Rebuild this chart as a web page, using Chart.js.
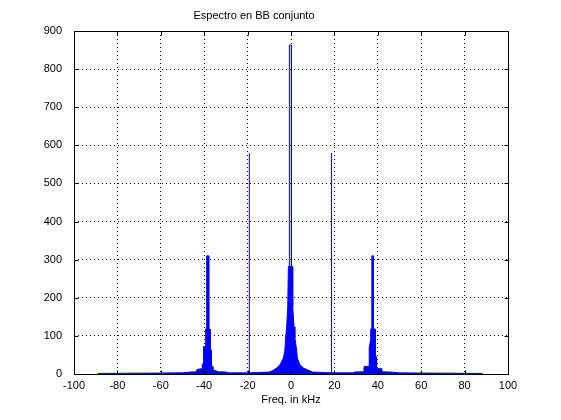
<!DOCTYPE html>
<html>
<head>
<meta charset="utf-8">
<script src="https://cdn.jsdelivr.net/npm/chart.js@4/dist/chart.umd.min.js"></script>
<style>
  body { margin: 0; background: #fff; }
  canvas { display: block; }
</style>
</head>
<body>
<canvas id="chart" width="561" height="420"></canvas>
<script>
// envelope of the baseband spectrum (kHz, magnitude)
const freqs = [
  -89, -75, -60, -50, -46.5, -43.5, -43.4, -41, -40.9, -40.4, -40.3, -39.4, -39.3, -38.9,
  -38.85, -37.95, -37.9, -37.3, -37.25, -36.7, -36.65, -36.1, -36.0, -34.2, -34.1, -29.6,
  -29.5, -24, -19.5, -15, -10, -8.1, -6.6, -5.1, -3.5, -2.8, -2.5, -2.0, -1.5, -1.2,
  -0.75, 0.2, 0.5, 0.8, 1.4, 1.8, 2.6, 2.9, 4.1, 5.7, 8.0, 10, 15, 18.5, 24, 29, 29.1,
  33.6, 33.7, 36.0, 36.05, 36.7, 36.75, 37.2, 37.25, 37.9, 37.95, 38.8, 38.85, 39.4,
  39.45, 41.7, 41.8, 46, 50, 60, 75, 88.3
];
const mags = [
  1.5, 2, 2.5, 3, 5, 6, 12, 14, 26, 26, 72, 72, 118, 118,
  310, 310, 118, 118, 63, 63, 20, 20, 10, 8, 6, 5,
  3, 3, 3, 4, 5, 10, 16, 24, 42, 63, 94, 124, 177, 282,
  282, 282, 282, 177, 124, 94, 63, 42, 24, 16, 10, 5, 4, 3, 3, 3, 5,
  6, 20, 20, 70, 90, 118, 118, 310, 310, 118, 118, 45, 45,
  14, 14, 6, 5, 3, 2.5, 2, 1.5
];

// narrow carrier spike at 0 kHz
const spikeFreqs = [-0.75, -0.75, 0.2, 0.2];
const spikeMags = [282, 863, 863, 282];

// the two tones near +-19 kHz
const toneFreqs = [-19.2, 18.7];
const toneMags = [580, 580];

const xTicks = [-100, -80, -60, -40, -20, 0, 20, 40, 60, 80, 100];
const yTicks = [0, 100, 200, 300, 400, 500, 600, 700, 800, 900];

const blue = '#0000ff';
const font = { family: "'Liberation Sans', Arial, sans-serif", size: 11, weight: 'normal' };

let datasets = [{
  data: freqs.map((f, i) => ({ x: f, y: mags[i] })),
  borderColor: blue,
  backgroundColor: blue,
  borderWidth: 1,
  fill: 'origin'
}, {
  data: spikeFreqs.map((f, i) => ({ x: f, y: spikeMags[i] })),
  borderColor: blue,
  borderWidth: 1,
  fill: false
}];
toneFreqs.forEach((f, i) => {
  datasets.push({
    data: [{ x: f, y: 0 }, { x: f, y: toneMags[i] }],
    borderColor: blue,
    borderWidth: 1,
    fill: false
  });
});

// box around the axes and inward tick marks, matlab style
const boxPlugin = {
  id: 'box',
  afterDraw(chart) {
    const { ctx, chartArea: a, scales } = chart;
    ctx.save();
    ctx.strokeStyle = '#000';
    ctx.lineWidth = 1;
    ctx.setLineDash([]);
    const L = Math.round(a.left) + 0.5, R = Math.round(a.right) + 0.5;
    const T = Math.round(a.top) + 0.5, B = Math.round(a.bottom) + 0.5;
    ctx.strokeRect(L, T, R - L, B - T);
    ctx.beginPath();
    for (let v of xTicks) {
      let px = Math.round(scales.x.getPixelForValue(v)) + 0.5;
      ctx.moveTo(px, B); ctx.lineTo(px, B - 4);
      ctx.moveTo(px, T); ctx.lineTo(px, T + 4);
    }
    for (let v of yTicks) {
      let py = Math.round(scales.y.getPixelForValue(v)) + 0.5;
      ctx.moveTo(L, py); ctx.lineTo(L + 4, py);
      ctx.moveTo(R, py); ctx.lineTo(R - 4, py);
    }
    ctx.stroke();
    ctx.restore();
  }
};

new Chart(document.getElementById('chart'), {
  type: 'line',
  data: { datasets: datasets },
  plugins: [boxPlugin],
  options: {
    responsive: false,
    animation: false,
    layout: { padding: { left: 0, right: 53, top: 0, bottom: 0 } },
    elements: { point: { radius: 0 }, line: { tension: 0 } },
    plugins: {
      legend: { display: false },
      tooltip: { enabled: false },
      title: {
        display: true,
        text: 'Espectro en BB conjunto',
        color: '#000',
        font: font,
        padding: { top: 9.4, bottom: 8.4 }
      }
    },
    scales: {
      x: {
        type: 'linear',
        min: -100,
        max: 100,
        afterBuildTicks: s => { s.ticks = xTicks.map(v => ({ value: v })); },
        afterFit: s => { s.height = 46; },
        ticks: { color: '#000', font: font, padding: 5, maxRotation: 0 },
        grid: { color: '#000', lineWidth: 1, drawTicks: false },
        border: { display: false, dash: [1, 3] },
        title: {
          display: true,
          text: 'Freq. in kHz',
          color: '#000',
          font: font,
          padding: { top: 0, bottom: 13 }
        }
      },
      y: {
        min: 0,
        max: 900,
        afterBuildTicks: s => { s.ticks = yTicks.map(v => ({ value: v })); },
        afterFit: s => { s.width = 74; },
        ticks: { color: '#000', font: font, padding: 12 },
        grid: { color: '#000', lineWidth: 1, drawTicks: false },
        border: { display: false, dash: [1, 3] }
      }
    }
  }
});
</script>
</body>
</html>
